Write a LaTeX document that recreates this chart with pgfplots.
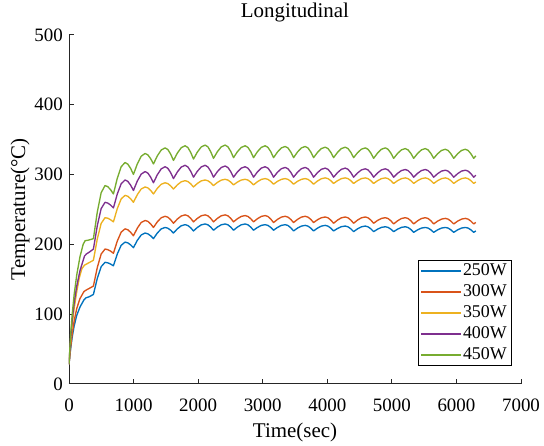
\documentclass[border=0pt]{standalone}
\usepackage{pgfplots}
\pgfplotsset{compat=1.18}
\usepackage{fontspec}
\setmainfont{Liberation Serif}
\definecolor{mblue}{RGB}{0,114,189}
\definecolor{morange}{RGB}{217,83,25}
\definecolor{myellow}{RGB}{237,177,32}
\definecolor{mpurple}{RGB}{126,47,142}
\definecolor{mgreen}{RGB}{119,172,48}
\definecolor{axgray}{RGB}{38,38,38}
\begin{document}
\begin{tikzpicture}
\path (-69bp,-58bp) rectangle (475bp,383bp);
\begin{axis}[
  at={(0,0)}, anchor=south west,
  scale only axis, width=452bp, height=349bp,
  xmin=0, xmax=7000, ymin=0, ymax=500,
  xtick={0,1000,...,7000}, ytick={0,100,...,500},
  axis x line=bottom, axis y line=left,
  axis line style={-, draw=axgray, line width=0.8bp},
  tick style={draw=axgray, line width=0.8bp},
  tick align=inside, major tick length=5bp,
  /pgf/number format/assume math mode=true,
  /pgf/number format/1000 sep={},
  scaled ticks=false,
  ticklabel style={font=\fontsize{19}{22}\selectfont, text=black},
  xticklabel style={anchor=base, yshift=-28bp, inner sep=0pt},
  yticklabel style={anchor=east, xshift=-6bp, inner sep=0pt},
  title={Longitudinal},
  title style={at={(axis description cs:0.5,1.0315)}, anchor=base, font=\fontsize{21}{24}\selectfont},
  xlabel={Time(sec)},
  xlabel style={at={(axis description cs:0.5,-0.1547)}, anchor=base, font=\fontsize{21}{24}\selectfont},
  ylabel={Temperature(°C)},
  ylabel style={at={(axis description cs:-0.108,0.5)}, anchor=center, font=\fontsize{21}{24}\selectfont},
  legend style={at={(axis description cs:0.978,0.0516)}, anchor=south east, draw=black, fill=white,
    font=\fontsize{18}{20}\selectfont, inner xsep=3bp, inner ysep=2bp, row sep=4bp,
    nodes={inner xsep=1bp, inner ysep=0pt, text height=13bp, text depth=4bp},
    /tikz/every even column/.append style={column sep=0bp}},
  legend cell align=left,
  legend image code/.code={\draw[#1, line width=1.2bp] (0bp,0bp) -- (40bp,0bp);},
  every axis plot/.append style={line width=1.35bp, line join=round},
]
\addplot[mblue] coordinates {
(0,28) (25,50) (50,67) (80,83) (120,98) (170,110) (230,120) (260,123) (320,125)
(378,128) (438,151) (498,167.8) (558,174) (601,173.3) (645,171.5)
(688,169) (748,186) (808,198.4) (868,203) (911,201.9) (955,199)
(998,195) (1058,205.5) (1118,213.2) (1178,216) (1221,214.9) (1265,212)
(1308,208) (1368,216) (1428,221.9) (1488,224) (1531,222.9) (1575,220)
(1618,216) (1678,222) (1738,226.4) (1798,228) (1841,226.8) (1885,223.5)
(1928,219) (1988,224) (2048,227.7) (2108,229) (2151,227.8) (2195,224.5)
(2238,220) (2298,224.5) (2358,227.8) (2418,229) (2461,227.8) (2505,224.5)
(2548,220) (2608,224.5) (2668,227.8) (2728,229) (2771,227.8) (2815,224.5)
(2858,220) (2918,224) (2978,226.9) (3038,228) (3081,226.9) (3125,224)
(3168,220) (3228,224) (3288,226.9) (3348,228) (3391,226.8) (3435,223.5)
(3478,219) (3538,223) (3598,225.9) (3658,227) (3701,225.9) (3745,223)
(3788,219) (3848,223) (3908,225.9) (3968,227) (4011,225.9) (4055,223)
(4098,219) (4158,222.5) (4218,225.1) (4278,226) (4321,224.9) (4365,222)
(4408,218) (4468,222) (4528,224.9) (4588,226) (4631,224.9) (4675,222)
(4718,218) (4778,221.5) (4838,224.1) (4898,225) (4941,224.1) (4985,221.5)
(5028,218) (5088,221.5) (5148,224.1) (5208,225) (5251,223.9) (5295,221)
(5338,217) (5398,220.5) (5458,223.1) (5518,224) (5561,223.1) (5605,220.5)
(5648,217) (5708,220.5) (5768,223.1) (5828,224) (5871,223.1) (5915,220.5)
(5958,217) (6018,220.5) (6078,223.1) (6138,224) (6181,223.1) (6225,220.5)
(6268,217) (6300,219)
};
\addlegendentry{250W}
\addplot[morange] coordinates {
(0,28) (25,52) (50,72) (80,90) (120,108) (170,122) (230,132) (260,134) (320,137)
(378,140) (438,166.5) (498,185.9) (558,193) (601,192.2) (645,190)
(688,187) (748,204.5) (808,217.3) (868,222) (911,220.7) (955,217)
(998,212) (1058,223) (1118,231.1) (1178,234) (1221,232.7) (1265,229)
(1308,224) (1368,232) (1428,237.9) (1488,240) (1531,238.7) (1575,235)
(1618,230) (1678,236) (1738,240.4) (1798,242) (1841,240.7) (1885,237)
(1928,232) (1988,237) (2048,240.7) (2108,242) (2151,240.7) (2195,237)
(2238,232) (2298,237) (2358,240.7) (2418,242) (2461,240.7) (2505,237)
(2548,232) (2608,236.5) (2668,239.8) (2728,241) (2771,239.8) (2815,236.5)
(2858,232) (2918,236.5) (2978,239.8) (3038,241) (3081,239.7) (3125,236)
(3168,231) (3228,235.5) (3288,238.8) (3348,240) (3391,238.8) (3435,235.5)
(3478,231) (3538,235.5) (3598,238.8) (3658,240) (3701,238.8) (3745,235.5)
(3788,231) (3848,235) (3908,237.9) (3968,239) (4011,237.8) (4055,234.5)
(4098,230) (4158,234.5) (4218,237.8) (4278,239) (4321,237.8) (4365,234.5)
(4408,230) (4468,234.5) (4528,237.8) (4588,239) (4631,237.8) (4675,234.5)
(4718,230) (4778,234) (4838,236.9) (4898,238) (4941,236.8) (4985,233.5)
(5028,229) (5088,233.5) (5148,236.8) (5208,238) (5251,236.8) (5295,233.5)
(5338,229) (5398,233.5) (5458,236.8) (5518,238) (5561,236.8) (5605,233.5)
(5648,229) (5708,233) (5768,235.9) (5828,237) (5871,235.9) (5915,233)
(5958,229) (6018,233) (6078,235.9) (6138,237) (6181,235.9) (6225,233)
(6268,229) (6300,231.2)
};
\addlegendentry{300W}
\addplot[myellow] coordinates {
(0,28) (25,60) (50,85) (80,108) (120,132) (160,152) (200,165) (240,170) (300,173)
(378,177) (438,207.5) (498,229.8) (558,238) (601,237.2) (645,235)
(688,232) (748,251) (808,264.9) (868,270) (911,268.7) (955,265)
(998,260) (1058,271) (1118,279.1) (1178,282) (1221,280.7) (1265,277)
(1308,272) (1368,280) (1428,285.9) (1488,288) (1531,286.8) (1575,283.5)
(1618,279) (1678,285) (1738,289.4) (1798,291) (1841,289.8) (1885,286.5)
(1928,282) (1988,287) (2048,290.7) (2108,292) (2151,290.9) (2195,288)
(2238,284) (2298,288.5) (2358,291.8) (2418,293) (2461,291.9) (2505,289)
(2548,285) (2608,289) (2668,291.9) (2728,293) (2771,291.9) (2815,289)
(2858,285) (2918,289.5) (2978,292.8) (3038,294) (3081,292.9) (3125,290)
(3168,286) (3228,290) (3288,292.9) (3348,294) (3391,292.9) (3435,290)
(3478,286) (3538,290) (3598,292.9) (3658,294) (3701,292.9) (3745,290)
(3788,286) (3848,290.5) (3908,293.8) (3968,295) (4011,293.9) (4055,291)
(4098,287) (4158,291) (4218,293.9) (4278,295) (4321,293.9) (4365,291)
(4408,287) (4468,291) (4528,293.9) (4588,295) (4631,293.9) (4675,291)
(4718,287) (4778,291) (4838,293.9) (4898,295) (4941,293.9) (4985,291)
(5028,287) (5088,291) (5148,293.9) (5208,295) (5251,293.9) (5295,291)
(5338,287) (5398,291) (5458,293.9) (5518,295) (5561,293.9) (5605,291)
(5648,287) (5708,291) (5768,293.9) (5828,295) (5871,293.9) (5915,291)
(5958,287) (6018,291) (6078,293.9) (6138,295) (6181,293.9) (6225,291)
(6268,287) (6300,289.2)
};
\addlegendentry{350W}
\addplot[mpurple] coordinates {
(0,28) (25,65) (50,92) (80,116) (120,140) (170,162) (240,183) (270,186) (320,189)
(378,193) (438,226.5) (498,251) (558,260) (601,258.9) (645,256)
(688,252) (748,272) (808,286.6) (868,292) (911,290) (955,284.5)
(998,277) (1058,290.5) (1118,300.4) (1178,304) (1221,301.9) (1265,296)
(1308,288) (1368,299.5) (1428,307.9) (1488,311) (1531,308.7) (1575,302.5)
(1618,294) (1678,303.5) (1738,310.5) (1798,313) (1841,310.7) (1885,304.5)
(1928,296) (1988,304.5) (2048,310.7) (2108,313) (2151,310.7) (2195,304.5)
(2238,296) (2298,304) (2358,309.9) (2418,312) (2461,309.9) (2505,304)
(2548,296) (2608,303.5) (2668,309) (2728,311) (2771,309) (2815,303.5)
(2858,296) (2918,303.5) (2978,309) (3038,311) (3081,309) (3125,303.5)
(3168,296) (3228,303) (3288,308.1) (3348,310) (3391,308.1) (3435,303)
(3478,296) (3538,303) (3598,308.1) (3658,310) (3701,308.1) (3745,303)
(3788,296) (3848,302.5) (3908,307.3) (3968,309) (4011,307.3) (4055,302.5)
(4098,296) (4158,302.5) (4218,307.3) (4278,309) (4321,307.3) (4365,302.5)
(4408,296) (4468,302) (4528,306.4) (4588,308) (4631,306.4) (4675,302)
(4718,296) (4778,302) (4838,306.4) (4898,308) (4941,306.4) (4985,302)
(5028,296) (5088,301.5) (5148,305.5) (5208,307) (5251,305.5) (5295,301.5)
(5338,296) (5398,301.5) (5458,305.5) (5518,307) (5561,305.5) (5605,301.5)
(5648,296) (5708,301) (5768,304.7) (5828,306) (5871,304.7) (5915,301)
(5958,296) (6018,301) (6078,304.7) (6138,306) (6181,304.7) (6225,301)
(6268,296) (6300,298.8)
};
\addlegendentry{400W}
\addplot[mgreen] coordinates {
(0,28) (25,70) (50,100) (80,128) (120,156) (170,182) (220,200) (250,205) (310,206)
(378,208) (438,246) (498,273.8) (558,284) (601,282.4) (645,278)
(688,272) (748,294.5) (808,311) (868,317) (911,314.7) (955,308.5)
(998,300) (1058,315) (1118,326) (1178,330) (1221,328) (1265,322.5)
(1308,315) (1368,326.5) (1428,334.9) (1488,338) (1531,335.6) (1575,329)
(1618,320) (1678,330.5) (1738,338.2) (1798,341) (1841,338.5) (1885,331.5)
(1928,322) (1988,332) (2048,339.3) (2108,342) (2151,339.5) (2195,332.5)
(2238,323) (2298,332.5) (2358,339.5) (2418,342) (2461,339.6) (2505,333)
(2548,324) (2608,332.5) (2668,338.7) (2728,341) (2771,338.7) (2815,332.5)
(2858,324) (2918,332.5) (2978,338.7) (3038,341) (3081,338.7) (3125,332.5)
(3168,324) (3228,332) (3288,337.9) (3348,340) (3391,337.9) (3435,332)
(3478,324) (3538,332) (3598,337.9) (3658,340) (3701,337.9) (3745,332)
(3788,324) (3848,331.5) (3908,337) (3968,339) (4011,337) (4055,331.5)
(4098,324) (4158,331.5) (4218,337) (4278,339) (4321,337) (4365,331.5)
(4408,324) (4468,331) (4528,336.1) (4588,338) (4631,336) (4675,330.5)
(4718,323) (4778,330.5) (4838,336) (4898,338) (4941,336) (4985,330.5)
(5028,323) (5088,330) (5148,335.1) (5208,337) (5251,335.1) (5295,330)
(5338,323) (5398,330) (5458,335.1) (5518,337) (5561,335.1) (5605,330)
(5648,323) (5708,329.5) (5768,334.3) (5828,336) (5871,334.3) (5915,329.5)
(5958,323) (6018,329.5) (6078,334.3) (6138,336) (6181,334.3) (6225,329.5)
(6268,323) (6300,326.6)
};
\addlegendentry{450W}
\end{axis}
\end{tikzpicture}
\end{document}
